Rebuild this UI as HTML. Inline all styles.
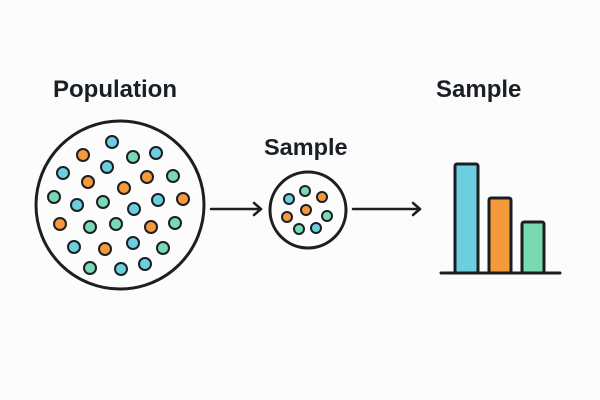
<!DOCTYPE html>
<html><head><meta charset="utf-8"><style>
html,body{margin:0;padding:0;background:#fcfcfc;}
svg{display:block}
text{font-family:"Liberation Sans",sans-serif;font-weight:bold;fill:#1a1f24}
</style></head><body>
<svg width="600" height="400" viewBox="0 0 600 400">
<rect width="600" height="400" fill="#fcfcfc"/>
<text x="53" y="97" font-size="24">Population</text>
<text x="264" y="155" font-size="23.5">Sample</text>
<text x="436" y="97" font-size="24">Sample</text>
<circle cx="120" cy="205" r="84" fill="none" stroke="#1a1f24" stroke-width="3"/>
<g stroke="#1a1f24" stroke-width="2">
<g fill="#6ccfdf">
<circle cx="112" cy="142" r="6"/><circle cx="156" cy="153" r="6"/><circle cx="63" cy="173" r="6"/><circle cx="107" cy="167" r="6"/><circle cx="77" cy="205" r="6"/><circle cx="158" cy="200" r="6"/><circle cx="134" cy="209" r="6"/><circle cx="74" cy="247" r="6"/><circle cx="133" cy="243" r="6"/><circle cx="121" cy="269" r="6"/><circle cx="145" cy="264" r="6"/>
<circle cx="289" cy="199" r="5"/><circle cx="316" cy="228" r="5"/>
</g>
<g fill="#f6993a">
<circle cx="83" cy="155" r="6"/><circle cx="88" cy="182" r="6"/><circle cx="147" cy="177" r="6"/><circle cx="124" cy="188" r="6"/><circle cx="183" cy="199" r="6"/><circle cx="60" cy="224" r="6"/><circle cx="151" cy="227" r="6"/><circle cx="105" cy="249" r="6"/>
<circle cx="322" cy="197" r="5"/><circle cx="287" cy="217" r="5"/><circle cx="306" cy="210" r="5"/>
</g>
<g fill="#79dab0">
<circle cx="133" cy="157" r="6"/><circle cx="173" cy="176" r="6"/><circle cx="54" cy="197" r="6"/><circle cx="103" cy="202" r="6"/><circle cx="90" cy="227" r="6"/><circle cx="116" cy="224" r="6"/><circle cx="175" cy="223" r="6"/><circle cx="163" cy="248" r="6"/><circle cx="90" cy="268" r="6"/>
<circle cx="305" cy="191" r="5"/><circle cx="327" cy="216" r="5"/><circle cx="299" cy="229" r="5"/>
</g>
</g>
<circle cx="308" cy="210" r="38" fill="none" stroke="#1a1f24" stroke-width="3"/>
<g stroke="#1a1f24" stroke-width="2.5" fill="none" stroke-linecap="round" stroke-linejoin="round">
<line x1="211" y1="209" x2="261" y2="209"/><polyline points="254,203 261,209 254,215"/>
<line x1="353" y1="209" x2="420" y2="209"/><polyline points="413,203 420,209 413,215"/>
</g>
<g stroke="#1a1f24" stroke-width="3">
<rect x="455" y="164" width="23" height="109" rx="2" fill="#6ccfdf"/>
<rect x="489" y="198" width="22" height="75" rx="2" fill="#f6993a"/>
<rect x="522" y="222" width="22" height="51" rx="2" fill="#79dab0"/>
<line x1="441" y1="273" x2="560" y2="273" stroke-linecap="round"/>
</g>
</svg>
</body></html>
